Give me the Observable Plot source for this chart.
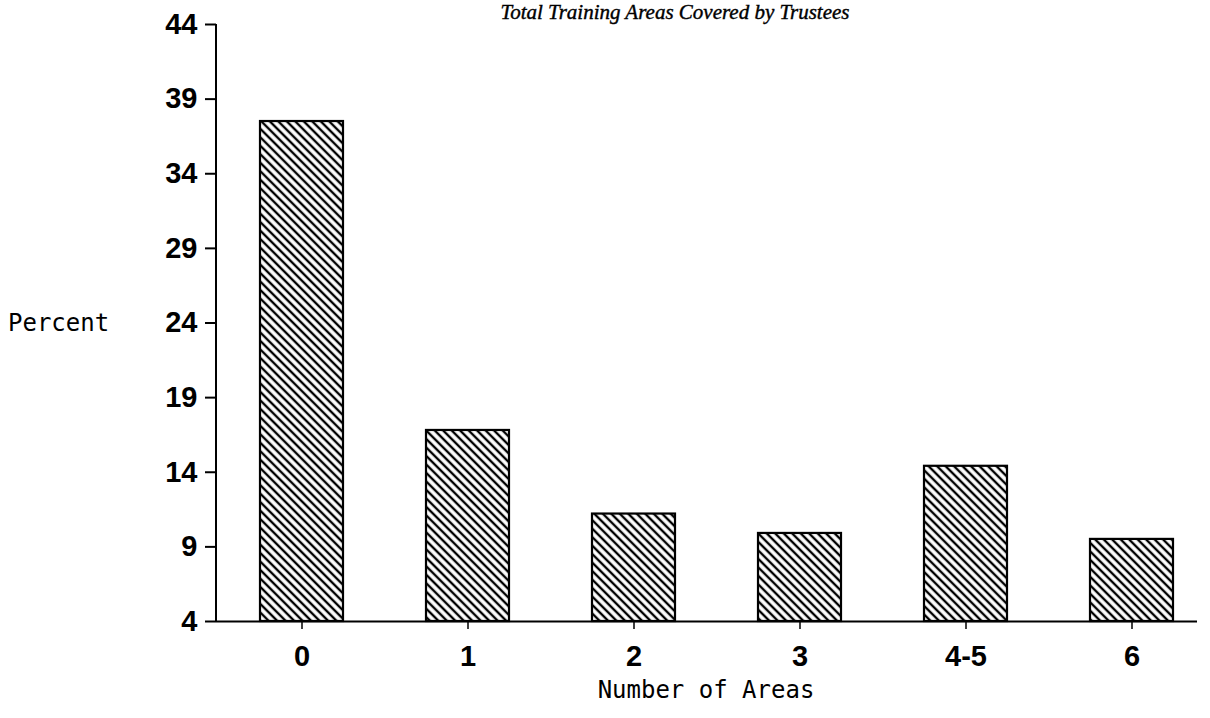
<!DOCTYPE html>
<html><head><meta charset="utf-8">
<script src="https://cdn.jsdelivr.net/npm/d3@7"></script>
<script src="https://cdn.jsdelivr.net/npm/@observablehq/plot@0.6"></script>
<style>
html,body{margin:0;padding:0;background:#fff;}
#wrap{position:relative;width:1210px;height:718px;overflow:hidden;background:#fff;}
#chart{position:absolute;left:0;top:0;}
.title{position:absolute;top:0;left:0;width:1350px;text-align:center;font:italic 21px/normal "Liberation Serif",serif;color:#000;white-space:nowrap;-webkit-text-stroke:0.4px #000;}
.ylab{position:absolute;left:8px;top:309px;font:24px "DejaVu Sans Mono",monospace;color:#000;}
.xlab{position:absolute;left:0;width:1412px;top:676px;text-align:center;font:24px "DejaVu Sans Mono",monospace;color:#000;}
</style></head><body>
<div id="wrap"><div id="chart"></div></div>
<script>
const categories = ["0", "1", "2", "3", "4-5", "6"];
const percents = [37.5, 16.8, 11.2, 9.9, 14.4, 9.5];
const yTicks = [4, 9, 14, 19, 24, 29, 34, 39, 44];
const titleText = "Total Training Areas Covered by Trustees";
const yLabel = "Percent";
const xLabel = "Number of Areas";

const data = categories.map((c, i) => ({category: c, percent: percents[i]}));

const W = 1210, H = 718, mL = 216, mR = 13, mT = 24, mB = 97;

const yAxisLine = (index, scales, values, dims) => {
  const y = scales.y;
  return d3.create("svg:line")
    .attr("x1", dims.marginLeft).attr("x2", dims.marginLeft)
    .attr("y1", y(yTicks[0])).attr("y2", y(yTicks[yTicks.length - 1]))
    .attr("stroke", "black").attr("stroke-width", 2).node();
};

const chart = Plot.plot({
  width: W, height: H,
  marginLeft: mL, marginRight: mR, marginTop: mT, marginBottom: mB,
  style: {background: "white", color: "black"},
  x: {type: "band", domain: categories, range: [mL, mL + 1000], paddingInner: 0.5, paddingOuter: 0.25, axis: null},
  y: {domain: [yTicks[0], yTicks[yTicks.length - 1]], axis: null},
  marks: [
    Plot.barY(data, {x: "category", y1: yTicks[0], y2: "percent", fill: "url(#hatch)", stroke: "black", strokeWidth: 2.2}),
    Plot.ruleY([yTicks[0]], {stroke: "black", strokeWidth: 2.2}),
    yAxisLine,
    Plot.axisY({ticks: yTicks, tickSize: 11, tickPadding: 8, strokeWidth: 2, fontSize: 29, fontWeight: "bold", fontFamily: "Liberation Sans, Arial, sans-serif", label: null}),
    Plot.axisX({tickSize: 8, tickPadding: 16, strokeWidth: 1.5, fontSize: 29, fontWeight: "bold", fontFamily: "Liberation Sans, Arial, sans-serif", label: null})
  ]
});

const svg = d3.select(chart);
const defs = svg.insert("defs", ":first-child");
const pat = defs.append("pattern").attr("id", "hatch").attr("patternUnits", "userSpaceOnUse")
  .attr("width", 6).attr("height", 6).attr("patternTransform", "rotate(-45)");
pat.append("rect").attr("width", 6).attr("height", 6).attr("fill", "white");
pat.append("line").attr("x1", 3).attr("x2", 3).attr("y1", -1).attr("y2", 7).attr("stroke", "black").attr("stroke-width", 2.4);

document.getElementById("chart").appendChild(chart);
const wrap = document.getElementById("wrap");
const t = document.createElement("div"); t.className = "title"; t.textContent = titleText; wrap.appendChild(t);
const yl = document.createElement("div"); yl.className = "ylab"; yl.textContent = yLabel; wrap.appendChild(yl);
const xl = document.createElement("div"); xl.className = "xlab"; xl.textContent = xLabel; wrap.appendChild(xl);
</script>
</body></html>
